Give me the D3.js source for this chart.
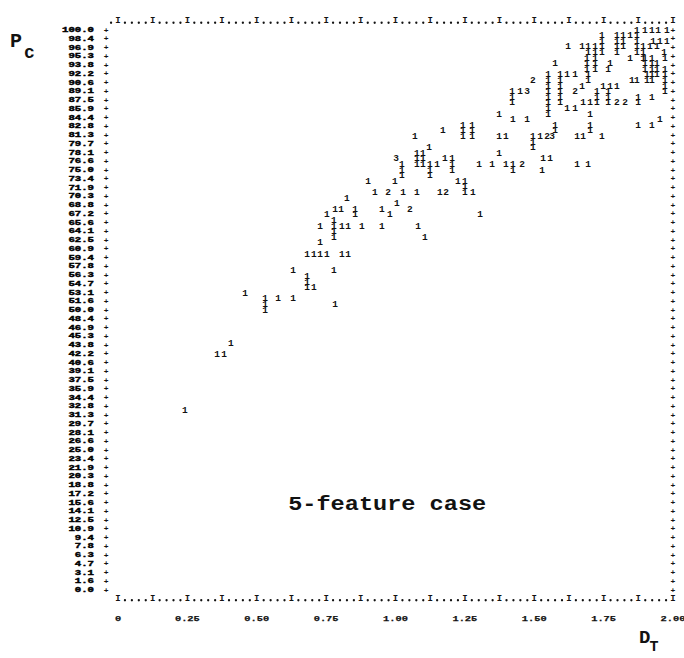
<!DOCTYPE html>
<html>
<head>
<meta charset="utf-8">
<script src="https://cdn.jsdelivr.net/npm/d3@7"></script>
<style>
  html, body { margin: 0; padding: 0; background: #fff; }
  svg { display: block; }
</style>
</head>
<body>
<svg id="chart" width="684" height="658"></svg>
<script>
// ---- data (D_T, P_c, printed glyph) ----
const points = [
  [0.241,32,"1"],
  [0.357,42,"1"],[0.382,42,"1"],[0.407,44,"1"],
  [0.458,53,"1"],
  [0.530,52,"1"],[0.530,51,"1"],[0.530,50,"1"],
  [0.577,52,"1"],[0.631,52,"1"],[0.631,57,"1"],
  [0.681,56,"1"],[0.681,55,"1"],[0.681,54,"1"],[0.706,54,"1"],
  [0.778,57,"1"],[0.782,51,"1"],
  [0.681,60,"1"],[0.706,60,"1"],[0.728,60,"1"],[0.753,60,"1"],[0.728,62,"1"],
  [0.807,60,"1"],[0.829,60,"1"],
  [0.728,65,"1"],
  [0.778,66,"1"],[0.778,65,"1"],[0.778,64,"1"],[0.778,63,"1"],
  [0.807,65,"1"],[0.829,65,"1"],[0.879,65,"1"],
  [0.753,67,"1"],[0.782,68,"1"],[0.804,68,"1"],[0.825,70,"1"],
  [0.854,68,"1"],[0.854,67,"1"],
  [0.901,73,"1"],[0.926,71,"1"],[0.951,68,"1"],[0.951,65,"1"],[0.973,71,"2"],[0.980,67,"1"],[0.998,73,"1"],[1.005,69,"1"],
  [1.002,77,"3"],[1.023,76,"1"],[1.023,75,"1"],[1.023,74,"1"],
  [1.027,71,"1"],[1.077,71,"1"],[1.052,68,"2"],[1.081,65,"1"],[1.106,63,"1"],
  [1.070,81,"1"],[1.077,78,"1"],[1.077,77,"1"],[1.077,76,"1"],[1.099,78,"1"],[1.099,77,"1"],[1.099,76,"1"],
  [1.121,79,"1"],[1.124,76,"1"],[1.124,75,"1"],[1.124,74,"1"],[1.150,76,"1"],
  [1.160,71,"1"],[1.182,71,"2"],[1.178,77,"1"],[1.204,77,"1"],[1.204,76,"1"],[1.204,75,"1"],[1.225,73,"1"],
  [1.250,73,"1"],[1.250,72,"1"],[1.250,71,"1"],[1.279,71,"1"],
  [1.171,82,"1"],[1.243,83,"1"],[1.243,82,"1"],[1.243,81,"1"],[1.276,83,"1"],[1.276,82,"1"],[1.276,81,"1"],
  [1.301,76,"1"],[1.305,67,"1"],[1.348,76,"1"],[1.373,78,"1"],[1.398,76,"1"],[1.423,76,"1"],[1.423,75,"1"],[1.456,76,"2"],
  [1.373,85,"1"],[1.423,84,"1"],[1.474,84,"1"],[1.373,81,"1"],[1.398,81,"1"],
  [1.495,81,"1"],[1.495,80,"1"],[1.495,79,"1"],
  [1.420,89,"1"],[1.420,88,"1"],[1.420,87,"1"],[1.449,89,"1"],[1.474,89,"3"],[1.495,91,"2"],
  [1.550,92,"1"],[1.550,91,"1"],[1.550,90,"1"],[1.550,89,"1"],[1.550,88,"1"],[1.550,87,"1"],[1.550,86,"1"],[1.550,85,"1"],
  [1.575,94,"1"],
  [1.593,92,"1"],[1.593,91,"1"],[1.593,90,"1"],[1.593,89,"1"],[1.593,88,"1"],[1.593,87,"1"],
  [1.618,92,"1"],[1.647,92,"1"],[1.618,86,"1"],[1.647,86,"1"],[1.647,89,"2"],
  [1.672,90,"1"],[1.694,91,"1"],[1.676,87,"1"],[1.701,87,"1"],[1.701,85,"1"],
  [1.726,89,"1"],[1.726,88,"1"],[1.726,87,"1"],[1.701,83,"1"],[1.744,81,"1"],
  [1.521,81,"1"],[1.546,81,"2"],[1.564,81,"3"],
  [1.575,83,"1"],[1.575,82,"1"],
  [1.654,81,"1"],[1.676,81,"1"],[1.701,82,"1"],
  [1.532,77,"1"],[1.557,77,"1"],[1.654,76,"1"],[1.694,76,"1"],[1.528,75,"1"],
  [1.690,95,"1"],[1.690,94,"1"],[1.690,93,"1"],[1.719,95,"1"],[1.719,94,"1"],[1.719,93,"1"],[1.773,94,"1"],
  [1.748,90,"1"],[1.773,90,"1"],[1.798,90,"1"],[1.766,89,"1"],[1.766,88,"1"],[1.766,87,"1"],
  [1.798,87,"2"],[1.827,87,"2"],[1.852,91,"1"],[1.870,91,"1"],[1.874,88,"1"],[1.874,87,"1"],[1.924,91,"1"],
  [1.899,95,"1"],[1.899,94,"1"],[1.899,93,"1"],[1.924,95,"1"],[1.924,94,"1"],[1.924,93,"1"],[1.924,92,"1"],
  [1.924,88,"1"],[1.874,83,"1"],[1.924,83,"1"],[1.953,84,"1"],
  [1.870,100,"1"],[1.870,99,"1"],[1.899,100,"1"],[1.924,100,"1"],[1.946,100,"1"],[1.978,100,"1"],
  [1.928,98,"1"],[1.953,98,"1"],[1.978,98,"1"],
  [1.744,99,"1"],[1.744,98,"1"],[1.744,97,"1"],[1.744,96,"1"],
  [1.798,99,"1"],[1.798,98,"1"],[1.798,97,"1"],[1.798,96,"1"],
  [1.820,99,"1"],[1.820,98,"1"],[1.820,97,"1"],[1.845,99,"1"],
  [1.870,98,"1"],[1.870,97,"1"],[1.870,96,"1"],[1.892,97,"1"],[1.892,96,"1"],[1.892,95,"1"],
  [1.917,97,"1"],[1.942,97,"1"],[1.968,96,"1"],[1.971,95,"1"],
  [1.622,97,"1"],[1.672,97,"1"],[1.694,97,"1"],[1.719,97,"1"],
  [1.694,96,"1"],[1.694,92,"1"],[1.719,96,"1"],[1.766,93,"1"],
  [1.845,95,"1"],[1.906,92,"1"],[1.906,91,"1"],
  [1.942,94,"1"],[1.942,93,"1"],[1.942,92,"1"],
  [1.971,93,"1"],[1.971,92,"1"],[1.971,91,"1"],[1.971,90,"1"],[1.971,89,"1"]
];

const xTicks = [0, 0.25, 0.5, 0.75, 1.0, 1.25, 1.5, 1.75, 2.0];
const xTickLabels = ["0", "0.25", "0.50", "0.75", "1.00", "1.25", "1.50", "1.75", "2.00"];
const rowStep = 100 / 64;                 // one printer line
const yTicks = d3.range(65).map(i => 100 - i * rowStep);
const colStep = 0.025;                    // one printer column
const annotation = "5-feature case";

// ---- drawing ----
const svg = d3.select("#chart");
const ink = "#121212";
const mono = "'Liberation Mono', 'DejaVu Sans Mono', monospace";

const x = d3.scaleLinear().domain([0, 2]).range([118, 673]);
const y = d3.scaleLinear().domain([0, 100]).range([590, 30]);

svg.append("rect").attr("width", 684).attr("height", 658).attr("fill", "#fff");

// top & bottom borders (printer line of dots with I ticks)
[[100 + rowStep, d3.range(-1, 81)], [-rowStep, d3.range(0, 81)]].forEach(([level, cols]) => {
  const g = svg.append("g");
  g.selectAll("circle").data(cols.filter(c => c % 5 !== 0)).join("circle")
    .attr("cx", c => x(c * colStep)).attr("cy", y(level) + 1.5)
    .attr("r", 1.15).attr("fill", ink);
  g.selectAll("text").data(cols.filter(c => c % 5 === 0)).join("text")
    .attr("x", c => x(c * colStep)).attr("y", y(level))
    .attr("text-anchor", "middle").attr("dominant-baseline", "central")
    .attr("font-family", mono).attr("font-weight", "bold").attr("font-size", 9)
    .attr("fill", ink).text("I");
});

// left & right borders (+ per line)
[-1.7 * colStep, 2.0].forEach(dv => {
  svg.append("g").selectAll("text").data(yTicks).join("text")
    .attr("x", x(dv)).attr("y", v => y(v))
    .attr("text-anchor", "middle").attr("dominant-baseline", "central")
    .attr("font-family", mono).attr("font-weight", "bold").attr("font-size", 8)
    .attr("fill", ink).text("+");
});

// y tick labels (one per printer line)
const fmt = d3.format(".1f");
svg.append("g").selectAll("text").data(yTicks).join("text")
  .attr("x", 94).attr("y", v => y(v))
  .attr("text-anchor", "end").attr("dominant-baseline", "central")
  .attr("font-family", mono).attr("font-weight", "bold").attr("font-size", 7.5)
  .attr("textLength", v => fmt(v).length * 6.4).attr("lengthAdjust", "spacingAndGlyphs")
  .attr("fill", "#000").attr("stroke", "#000").attr("stroke-width", 0.45)
  .text(v => fmt(v));

// x tick labels
svg.append("g").selectAll("text").data(xTicks).join("text")
  .attr("x", d => x(d)).attr("y", y(-3.2 * rowStep))
  .attr("text-anchor", "middle").attr("dominant-baseline", "central")
  .attr("font-family", mono).attr("font-weight", "bold").attr("font-size", 8)
  .attr("textLength", (d, i) => xTickLabels[i].length * 6.2).attr("lengthAdjust", "spacingAndGlyphs")
  .attr("fill", ink).attr("stroke", ink).attr("stroke-width", 0.25)
  .text((d, i) => xTickLabels[i]);

// data glyphs
svg.append("g").selectAll("text").data(points).join("text")
  .attr("x", d => x(d[0])).attr("y", d => y(d[1]))
  .attr("text-anchor", "middle").attr("dominant-baseline", "central")
  .attr("font-family", mono).attr("font-weight", "bold").attr("font-size", 9.5)
  .attr("fill", ink).text(d => d[2]);

// annotation
svg.append("text")
  .attr("x", x(0.97)).attr("y", y(15.3))
  .attr("text-anchor", "middle").attr("dominant-baseline", "central")
  .attr("font-family", mono).attr("font-weight", "bold").attr("font-size", 20)
  .attr("textLength", 198).attr("lengthAdjust", "spacingAndGlyphs")
  .attr("fill", ink).text(annotation);

// axis titles
const pc = svg.append("text").attr("x", 10).attr("y", 47)
  .attr("font-family", mono).attr("font-weight", "bold").attr("font-size", 20).attr("fill", ink);
pc.append("tspan").text("P");
pc.append("tspan").attr("dx", 2).attr("dy", 11).attr("font-size", 18).text("c");

const dt = svg.append("text").attr("x", 639).attr("y", 643)
  .attr("font-family", mono).attr("font-weight", "bold").attr("font-size", 19).attr("fill", ink);
dt.append("tspan").text("D");
dt.append("tspan").attr("dx", -1).attr("dy", 8).attr("font-size", 15).text("T");
</script>
</body>
</html>
